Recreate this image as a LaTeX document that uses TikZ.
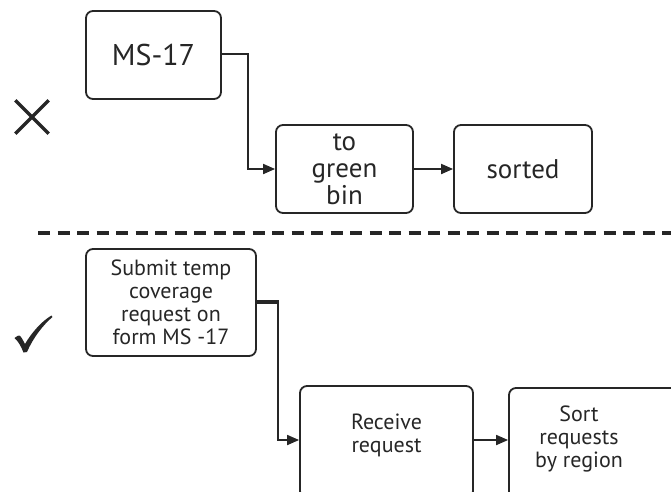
\documentclass[tikz,border=0pt]{standalone}
\usepackage{fontspec}
\setmainfont{PT Sans}
\usetikzlibrary{arrows.meta}
\begin{document}
\begin{tikzpicture}[x=1pt,y=-1pt,
  box/.style={draw=black!85, line width=1.8pt, rounded corners=7pt, inner sep=0pt, align=center, text=black!85},
  conn/.style={draw=black!85, line width=1.8pt, -{Triangle[length=12pt,width=10pt]}},
  lbl/.style={align=center, text=black!85, inner sep=0pt},
]
\useasboundingbox (0,0) rectangle (671,491);
\clip (0,0) rectangle (671,491);
% top row
\node[box, minimum width=135pt, minimum height=88pt, font=\fontsize{30}{32}\selectfont] (ms) at (153.5,55) {MS-17};
\node[box, minimum width=137pt, minimum height=88pt, font=\fontsize{27}{27}\selectfont] (green) at (344.5,169) {to\\green\\bin};
\node[box, minimum width=138pt, minimum height=88pt, font=\fontsize{27}{27}\selectfont] (sorted) at (523,169) {sorted};
\coordinate (k1) at (248,54);
\draw[conn] (ms.east |- k1) -- (k1) |- (green.west);
\draw[conn] (green.east) -- (sorted.west);
% cross
\node[inner sep=0pt, minimum size=33pt] (cross) at (32,117) {};
\draw[black!85, line width=3.2pt] (cross.north west) -- (cross.south east) (cross.north east) -- (cross.south west);
% dashed separator
\coordinate (d1) at (38,233);
\coordinate (d2) at (680,233);
\draw[black!85, line width=4pt, dash pattern=on 12pt off 7.5pt] (d1) -- (d2);
% bottom row
\node[box, minimum width=170pt, minimum height=107pt, font=\fontsize{22}{23}\selectfont] (submit) at (171,302.5) {Submit temp\\coverage\\request on\\form MS -17};
\node[box, minimum width=173pt, minimum height=112pt] (recv) at (386.5,442) {};
\node[lbl, font=\fontsize{22}{23}\selectfont] (recvt) at (386.5,435) {Receive\\request};
\node[box, minimum width=180pt, minimum height=112pt] (sort) at (599,444) {};
\node[lbl, font=\fontsize{22}{23}\selectfont] (sortt) at (579,439) {Sort\\requests\\by region};
\coordinate (k2) at (278,302);
\draw[conn] (submit.east |- k2) -- (k2) |- (recv.west |- 0,440);
\draw[black!85, line width=3.6pt] (submit.east |- k2) -- ([xshift=0.8pt]k2);
\draw[conn] (recv.east |- 0,440) -- (sort.west |- 0,440);
% check mark
\coordinate (check) at (33,334);
\fill[black!85] (14.5,338) .. controls (17,336) and (18,335.5) .. (19.5,335.5)
  .. controls (21,336.5) and (23,340) .. (25,344)
  .. controls (32,332) and (42,321) .. (51.5,315.5)
  -- (52.5,317)
  .. controls (43,325) and (33,338) .. (27,352)
  -- (23.5,352.5)
  .. controls (21,346) and (18,341) .. cycle;
\end{tikzpicture}
\end{document}
